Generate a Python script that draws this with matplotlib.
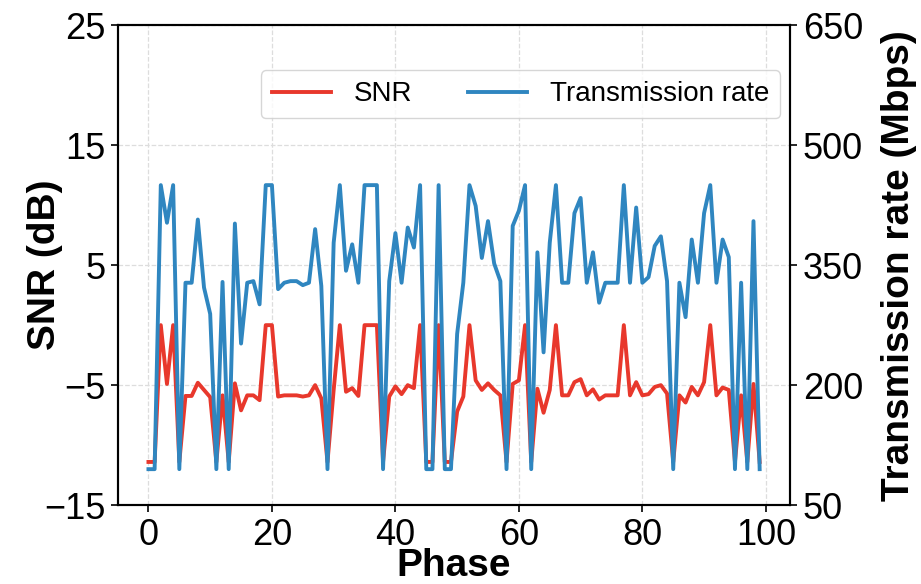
import matplotlib
matplotlib.use("Agg")
import matplotlib.pyplot as plt
import numpy as np

plt.rcParams['font.family'] = ['Liberation Sans', 'DejaVu Sans']

# values
phase = list(range(100))
snr = [-11.4, -11.4, 0, -4.9, 0, -11.4, -5.9, -5.9, -4.8, -5.4,
       -6.0, -11.4, -5.85, -11.4, -4.85, -7.1, -5.85, -5.85, -6.25, 0,
       0, -5.95, -5.85, -5.85, -5.85, -5.95, -5.85, -5.0, -6.1, -11.4,
       -5.4, 0, -5.55, -5.25, -5.9, 0, 0, 0, -11.4, -5.95,
       -5.1, -5.75, -5.0, -5.25, 0, -11.4, -11.4, 0, -11.4, -11.4,
       -7.2, -5.95, 0, -4.6, -5.4, -4.85, -5.4, -5.85, -11.4, -4.9,
       -4.6, 0, -11.4, -5.3, -7.3, -5.4, 0, -5.85, -5.85, -4.75,
       -4.5, -5.85, -5.35, -6.2, -5.85, -5.85, -5.85, 0, -5.85, -4.75,
       -5.85, -5.75, -5.15, -5.0, -5.7, -11.4, -5.85, -6.45, -5.15, -5.85,
       -4.75, 0, -5.85, -5.2, -5.4, -11.4, -5.85, -11.4, -4.9, -11.4]
rate = [95, 95, 450, 403, 450, 95, 328, 328, 407, 322,
        289, 95, 329, 95, 402, 252, 328, 330, 301, 450,
        450, 320, 328, 330, 330, 325, 328, 395, 324, 95,
        378, 450, 343, 376, 328, 450, 450, 450, 95, 330,
        390, 328, 397, 372, 450, 95, 95, 450, 95, 95,
        264, 328, 450, 424, 359, 405, 352, 330, 95, 399,
        418, 450, 95, 366, 241, 378, 450, 328, 328, 415,
        434, 328, 366, 303, 328, 328, 328, 450, 328, 422,
        328, 335, 374, 386, 330, 95, 328, 285, 382, 328,
        415, 450, 328, 382, 360, 95, 328, 95, 405, 95]

snr_ticks = [-15, -5, 5, 15, 25]
rate_ticks = [50, 200, 350, 500, 650]
x_ticks = [0, 20, 40, 60, 80, 100]

RED = '#e8382c'
BLUE = '#2f86c0'

fig = plt.figure(figsize=(9.21, 5.84), dpi=100)
ax = fig.add_axes([0.128, 0.135, 0.73, 0.822])
ax2 = ax.twinx()

l1, = ax.plot(phase, snr, color=RED, lw=2.8, label='SNR')
l2, = ax2.plot(phase, rate, color=BLUE, lw=2.8, label='Transmission rate')

ax.set_ylim(-15, 25)
ax.set_yticks(snr_ticks)
ax2.set_ylim(50, 650)
ax2.set_yticks(rate_ticks)
ax.set_xticks(x_ticks)

ax.grid(True, ls='--', color='#dddddd', lw=0.9)
ax.set_axisbelow(True)

ax.tick_params(labelsize=26, width=1.2, length=5, pad=4)
ax2.tick_params(labelsize=26, width=1.2, length=5, pad=4)
for a in (ax, ax2):
    for s in a.spines.values():
        s.set_linewidth(1.5)

ax.set_xlabel('Phase', fontsize=28, fontweight='bold', labelpad=-3)
ax.set_ylabel('SNR (dB)', fontsize=28, fontweight='bold', labelpad=-14)
ax2.set_ylabel('Transmission rate (Mbps)', fontsize=28, fontweight='bold', labelpad=13)

ax2.legend([l1, l2], ['SNR', 'Transmission rate'], ncol=2, fontsize=20,
           loc='upper right', bbox_to_anchor=(0.985, 0.906), borderaxespad=0,
           columnspacing=2.0, handlelength=2.15)

fig.savefig('out.png', dpi=100)
